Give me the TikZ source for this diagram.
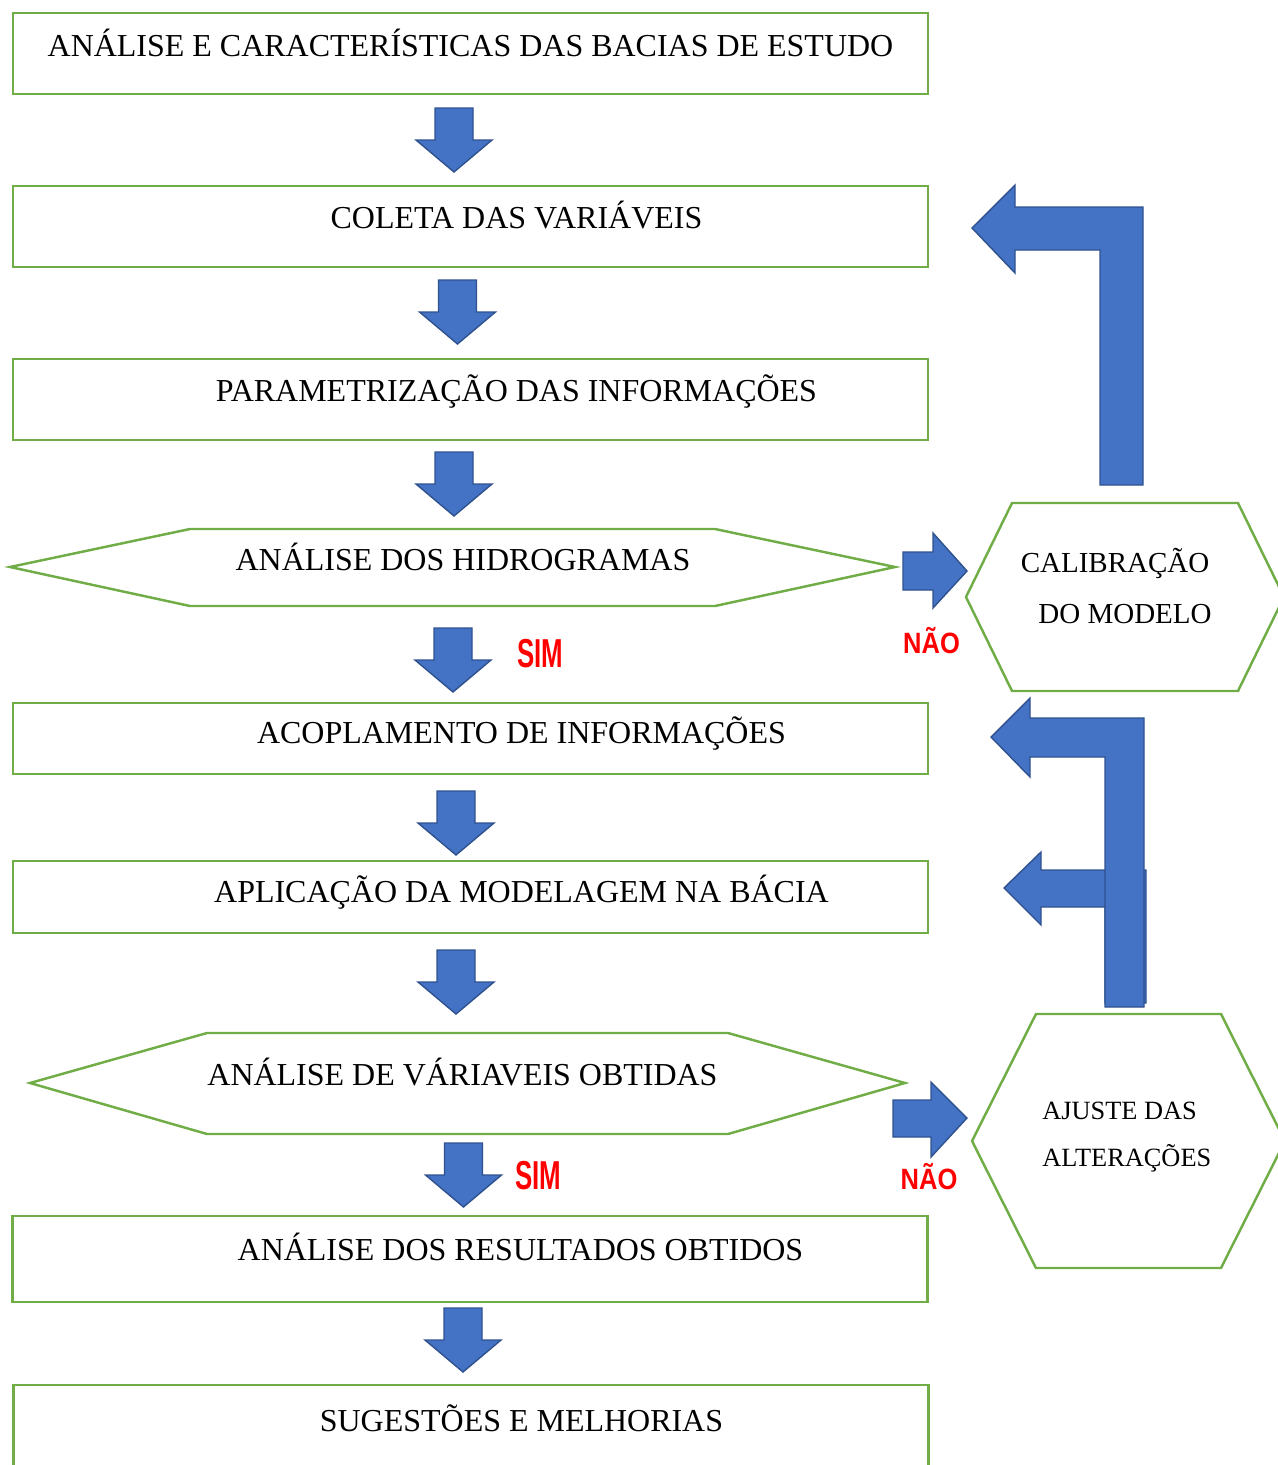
\documentclass[tikz,border=0pt]{standalone}
\usepackage{fontspec}
\setmainfont{Liberation Serif}
\newfontfamily\avisofont{Liberation Sans}
\usetikzlibrary{positioning}
\definecolor{verdecaixa}{HTML}{70AD47}
\definecolor{azulseta}{HTML}{4472C4}
\definecolor{bordaseta}{HTML}{2F528F}
\tikzset{
	caixa/.style={draw=verdecaixa, line width=1.4pt, minimum width=18.3cm, inner sep=0pt},
	hexa/.style={draw=verdecaixa, line width=1.4pt, line join=miter},
	seta/.style={fill=azulseta, draw=bordaseta, line width=0.8pt, line join=miter},
	texto/.style={anchor=base, inner sep=0pt, font=\fontsize{18.2}{21}\selectfont},
	textomed/.style={anchor=base, inner sep=0pt, font=\fontsize{16.5}{19}\selectfont},
	textopeq/.style={anchor=base west, inner sep=0pt, font=\fontsize{15}{18}\selectfont},
	sim/.style={anchor=base, inner sep=0pt, text=red, font=\avisofont\bfseries\fontsize{23}{26}\selectfont},
	nao/.style={anchor=base, inner sep=0pt, text=red, font=\avisofont\bfseries\fontsize{16.7}{19}\selectfont},
}

\begin{document}
\begin{tikzpicture}[x=0.02cm, y=-0.02cm]
	\useasboundingbox (0,0) rectangle (1278,1465);
	\clip (0,0) rectangle (1278,1465);

	% caixas
	\node[caixa, minimum height=1.62cm] (analise)   at (470.5,53.5) {};
	\node[caixa, minimum height=1.62cm] (coleta)    at (470.5,226.5) {};
	\node[caixa, minimum height=1.62cm] (param)     at (470.5,399.5) {};
	\node[caixa, minimum height=1.42cm] (acopla)    at (470.5,738.5) {};
	\node[caixa, minimum height=1.44cm] (aplica)    at (470.5,897) {};
	\node[caixa, minimum height=1.72cm] (resultado) at (470,1259) {};
	\node[caixa, minimum height=1.80cm] (sugestao)  at (471,1430) {};

	% hexagonos
	\draw[hexa] (10,567) -- (190,529) -- (715,529) -- (895,567) -- (715,606) -- (190,606) -- cycle;
	\draw[hexa] (30,1083) -- (207,1033) -- (728,1033) -- (905,1083) -- (728,1134) -- (207,1134) -- cycle;
	\draw[hexa] (966,597) -- (1012,503) -- (1238,503) -- (1284,597) -- (1238,691) -- (1012,691) -- cycle;
	\draw[hexa] (972,1141) -- (1036,1014) -- (1221,1014) -- (1285,1141) -- (1221,1268) -- (1036,1268) -- cycle;

	% setas para baixo
	\foreach \cx/\yt in {454/108, 457.5/280, 454/452, 453/628, 456/791, 456/950, 463.5/1143, 463/1308}
		\draw[seta] (\cx-19,\yt) -- (\cx+19,\yt) -- (\cx+19,\yt+32) -- (\cx+38,\yt+32)
			-- (\cx,\yt+64) -- (\cx-38,\yt+32) -- (\cx-19,\yt+32) -- cycle;

	% setas para a direita (NAO)
	\draw[seta] (903,552) -- (933,552) -- (933,533) -- (967,571) -- (933,608) -- (933,590) -- (903,590) -- cycle;
	\draw[seta] (893,1100) -- (931,1100) -- (931,1082) -- (967,1118) -- (931,1157) -- (931,1137) -- (893,1137) -- cycle;

	% setas de retorno
	\draw[seta] (1143,485) -- (1143,207) -- (1015,207) -- (1015,185) -- (972,228) -- (1015,273)
		-- (1015,250) -- (1100,250) -- (1100,485) -- cycle;
	\draw[seta] (1146,1003) -- (1146,870) -- (1041,870) -- (1041,852) -- (1004,888) -- (1041,925)
		-- (1041,907) -- (1105,907) -- (1105,1003) -- cycle;
	\draw[seta] (1144,1007) -- (1144,718) -- (1030,718) -- (1030,698) -- (991,737) -- (1030,777)
		-- (1030,757) -- (1105,757) -- (1105,1007) -- cycle;

	% textos
	\node[texto] (t1) at (470.5,56)  {ANÁLISE E CARACTERÍSTICAS DAS BACIAS DE ESTUDO};
	\node[texto] (t2) at (516.5,228) {COLETA DAS VARIÁVEIS};
	\node[texto] (t3) at (516.5,401) {PARAMETRIZAÇÃO DAS INFORMAÇÕES};
	\node[texto] (t4) at (463,570)   {ANÁLISE DOS HIDROGRAMAS};
	\node[texto] (t5) at (521.5,743) {ACOPLAMENTO DE INFORMAÇÕES};
	\node[texto] (t6) at (521.5,902) {APLICAÇÃO DA MODELAGEM NA BÁCIA};
	\node[texto] (t7) at (462.5,1085) {ANÁLISE DE VÁRIAVEIS OBTIDAS};
	\node[texto] (t8) at (520.5,1260) {ANÁLISE DOS RESULTADOS OBTIDOS};
	\node[texto] (t9) at (521.5,1431) {SUGESTÕES E MELHORIAS};

	\node[textomed] (cal1) at (1115,572) {CALIBRAÇÃO};
	\node[textomed] (cal2) at (1125,623) {DO MODELO};
	\node[textopeq] (aj1) at (1042,1119) {AJUSTE DAS};
	\node[textopeq] (aj2) at (1042,1166) {ALTERAÇÕES};

	\node[sim] (sim1) at (540,667)  {\scalebox{0.64}[1]{SIM}};
	\node[sim] (sim2) at (538.5,1189) {\scalebox{0.64}[1]{SIM}};
	\node[nao] (nao1) at (931.5,653) {\scalebox{0.87}[1]{NÃO}};
	\node[nao] (nao2) at (929,1189)  {\scalebox{0.87}[1]{NÃO}};
\end{tikzpicture}
\end{document}
